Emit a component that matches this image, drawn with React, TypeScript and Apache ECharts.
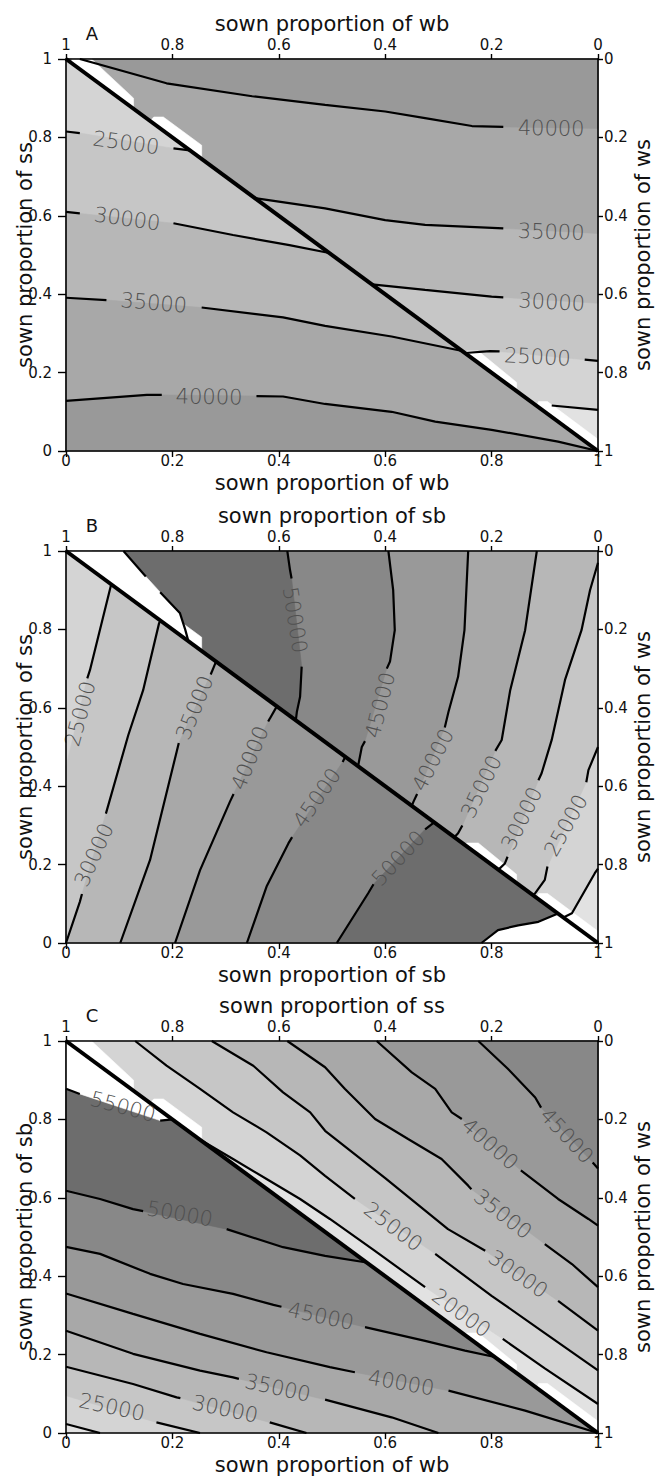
import React, { useEffect, useRef } from "react";
import * as echarts from "echarts";

type Pt = number[] | null;
type Contour = { level: number; pts: Pt[]; close: number[][] };

// ---- tick values / colour bands ----
const TICK_INTERVAL = 0.2;
const LEVELS = [0, 20000, 25000, 30000, 35000, 40000, 45000, 50000, 55000];
const BAND_COLORS = ["#e2e2e2", "#d4d4d4", "#c6c6c6", "#b7b7b7", "#a8a8a8", "#999999", "#888888", "#6d6d6d", "#ffffff"];

const UPPER_TRI = [[0, 1], [1, 1], [1, 0]];
const LOWER_TRI = [[0, 1], [0, 0], [1, 0]];

// ---------------- Panel A ----------------
const A_UPPER: Contour[] = [
  { level: 20000, pts: [[0.89, 0.11], null, [0.913, 0.116], [1, 0.105]], close: [[1, 1], [0, 1]] },
  { level: 25000, pts: [[0.75, 0.25], [0.797, 0.255], [0.815, 0.254], null, [0.975, 0.233], [1, 0.23]], close: [[1, 1], [0, 1]] },
  { level: 30000, pts: [[0.575, 0.425], [0.675, 0.411], [0.8, 0.394], [0.822, 0.392], null, [1, 0.377]], close: [[1, 1], [0, 1]] },
  { level: 35000, pts: [[0.355, 0.645], [0.487, 0.619], [0.6, 0.589], [0.675, 0.577], [0.822, 0.568], null, [1, 0.555]], close: [[1, 1], [0, 1]] },
  { level: 40000, pts: [[0.026, 1], [0.189, 0.938], [0.35, 0.905], [0.487, 0.883], [0.6, 0.866], [0.675, 0.849], [0.763, 0.829], [0.822, 0.827], null, [1, 0.823]], close: [[1, 1]] },
];
const A_LOWER: Contour[] = [
  { level: 25000, pts: [[0, 0.815], [0.026, 0.811], null, [0.202, 0.772], [0.233, 0.767]], close: [[1, 0], [0, 0]] },
  { level: 30000, pts: [[0, 0.61], [0.026, 0.606], null, [0.202, 0.581], [0.314, 0.551], [0.42, 0.525], [0.495, 0.505]], close: [[1, 0], [0, 0]] },
  { level: 35000, pts: [[0, 0.391], [0.076, 0.385], null, [0.255, 0.366], [0.408, 0.341], [0.487, 0.319], [0.612, 0.292], [0.745, 0.255]], close: [[1, 0], [0, 0]] },
  { level: 40000, pts: [[0, 0.128], [0.152, 0.143], [0.18, 0.143], null, [0.358, 0.14], [0.408, 0.139], [0.487, 0.12], [0.612, 0.1], [0.694, 0.075], [0.8, 0.054], [0.925, 0.024], [1, 0]], close: [[0, 0]] },
];
// [x, y, value, rotation in degrees]
const A_LABELS = [
  [0.912, 0.823, 40000, -1], [0.912, 0.559, 35000, -2], [0.913, 0.38, 30000, -3], [0.886, 0.24, 25000, -3],
  [0.113, 0.786, 25000, -8], [0.115, 0.592, 30000, -8], [0.165, 0.378, 35000, -5], [0.269, 0.138, 40000, -1],
];

// ---------------- Panel B ----------------
const B_UPPER: Contour[] = [
  { level: 20000, pts: [[1, 0.19], [0.994, 0.178], [0.951, 0.076], [0.935, 0.065]], close: [[0, 1], [1, 1]] },
  { level: 25000, pts: [[1, 0.5], [0.982, 0.441], [0.978, 0.41], null, [0.905, 0.195], [0.9, 0.161], [0.882, 0.127], [0.878, 0.122]], close: [[0, 1], [1, 1]] },
  { level: 30000, pts: [[1, 0.97], [0.985, 0.9], [0.969, 0.798], [0.938, 0.671], [0.913, 0.518], [0.894, 0.433], [0.888, 0.415], null, [0.83, 0.22], [0.825, 0.203], [0.812, 0.186]], close: [[0, 1], [1, 1]] },
  { level: 35000, pts: [[0.885, 1], [0.863, 0.798], [0.835, 0.645], [0.819, 0.518], [0.807, 0.49], null, [0.745, 0.3], [0.737, 0.28], [0.73, 0.27]], close: [[0, 1]] },
  { level: 40000, pts: [[0.756, 1], [0.749, 0.798], [0.737, 0.679], [0.719, 0.59], [0.712, 0.55], null, [0.66, 0.38], [0.653, 0.36], [0.65, 0.35]], close: [[0, 1]] },
  { level: 45000, pts: [[0.606, 1], [0.615, 0.9], [0.618, 0.798], [0.609, 0.718], [0.603, 0.7], null, [0.562, 0.515], [0.556, 0.5], [0.549, 0.451]], close: [[0, 1]] },
  { level: 50000, pts: [[0.416, 1], [0.421, 0.952], [0.424, 0.93], null, [0.443, 0.705], [0.44, 0.628], [0.434, 0.59], [0.432, 0.568]], close: [[0, 1]] },
  { level: 55000, pts: [[0.108, 1], [0.15, 0.935], null, [0.177, 0.895], [0.214, 0.842], [0.224, 0.8], [0.23, 0.77]], close: [[0, 1]] },
];
const B_LOWER: Contour[] = [
  { level: 25000, pts: [[0.085, 0.915], [0.045, 0.696], [0.04, 0.675], null, [0, 0.45]], close: [[0, 0], [1, 0]] },
  { level: 30000, pts: [[0, 0], [0.026, 0.105], [0.03, 0.125], null, [0.075, 0.33], [0.117, 0.53], [0.145, 0.645], [0.175, 0.816], [0.178, 0.822]], close: [[1, 0]] },
  { level: 35000, pts: [[0.102, 0], [0.158, 0.212], [0.208, 0.488], [0.212, 0.51], null, [0.272, 0.685], [0.282, 0.718]], close: [[1, 0]] },
  { level: 40000, pts: [[0.205, 0], [0.252, 0.186], [0.308, 0.36], [0.315, 0.38], null, [0.38, 0.565], [0.396, 0.603]], close: [[1, 0]] },
  { level: 45000, pts: [[0.34, 0], [0.377, 0.144], [0.418, 0.254], [0.425, 0.27], null, [0.52, 0.462], [0.525, 0.475]], close: [[1, 0]] },
  { level: 50000, pts: [[0.509, 0], [0.568, 0.127], [0.578, 0.15], null, [0.675, 0.29], [0.692, 0.308]], close: [[1, 0]] },
  { level: 55000, pts: [[0.781, 0], [0.812, 0.033], [0.85, 0.045], [0.888, 0.054], [0.925, 0.075]], close: [[1, 0]] },
];
const B_LABELS = [
  [0.43, 0.824, 50000, -81], [0.591, 0.607, 45000, 76], [0.69, 0.467, 40000, 63], [0.781, 0.399, 35000, 64],
  [0.857, 0.318, 30000, 64], [0.94, 0.3, 25000, 61],
  [0.027, 0.585, 25000, 75], [0.052, 0.225, 30000, 66], [0.242, 0.6, 35000, 68], [0.346, 0.472, 40000, 68],
  [0.472, 0.37, 45000, 55], [0.625, 0.216, 50000, 47],
];

// ---------------- Panel C ----------------
const C_UPPER: Contour[] = [
  { level: 20000, pts: [[0.25, 0.75], [0.314, 0.699], [0.377, 0.648], [0.44, 0.597], [0.496, 0.546], [0.58, 0.465], [0.675, 0.372], null, [0.821, 0.24], [0.9, 0.165], [1, 0.074]], close: [[1, 1], [0, 1]] },
  { level: 25000, pts: [[0.13, 1], [0.189, 0.937], [0.252, 0.878], [0.314, 0.818], [0.377, 0.767], [0.44, 0.708], [0.487, 0.656], [0.543, 0.597], null, [0.694, 0.457], [0.8, 0.35], [0.9, 0.255], [1, 0.16]], close: [[1, 1]] },
  { level: 30000, pts: [[0.274, 1], [0.352, 0.937], [0.408, 0.869], [0.459, 0.818], [0.487, 0.771], [0.6, 0.65], [0.718, 0.52], [0.788, 0.465], null, [0.925, 0.337], [1, 0.261]], close: [[1, 1]] },
  { level: 35000, pts: [[0.416, 1], [0.487, 0.933], [0.524, 0.878], [0.581, 0.801], [0.643, 0.75], [0.706, 0.699], [0.756, 0.631], [0.762, 0.622], null, [0.9, 0.482], [0.951, 0.431], [1, 0.372]], close: [[1, 1]] },
  { level: 40000, pts: [[0.584, 1], [0.65, 0.92], [0.694, 0.878], [0.725, 0.818], [0.744, 0.801], null, [0.855, 0.67], [0.925, 0.597], [0.982, 0.546], [1, 0.529]], close: [[1, 1]] },
  { level: 45000, pts: [[0.775, 1], [0.83, 0.93], [0.882, 0.856], [0.893, 0.83], null, [0.99, 0.69], [1, 0.675]], close: [[1, 1]] },
];
const C_LOWER: Contour[] = [
  { level: 20000, pts: [[0, 0.023], [0.064, 0]], close: [[1, 0], [0, 1]] },
  { level: 25000, pts: [[0, 0.095], null, [0.17, 0.027], [0.252, 0]], close: [[1, 0], [0, 1]] },
  { level: 30000, pts: [[0, 0.169], [0.126, 0.125], [0.208, 0.091], [0.215, 0.089], null, [0.383, 0.027], [0.452, 0]], close: [[1, 0], [0, 1]] },
  { level: 35000, pts: [[0, 0.261], [0.126, 0.202], [0.252, 0.159], [0.314, 0.142], [0.325, 0.138], null, [0.487, 0.085], [0.612, 0.04], [0.7, 0]], close: [[1, 0], [0, 1]] },
  { level: 40000, pts: [[0, 0.356], [0.126, 0.304], [0.252, 0.253], [0.377, 0.206], [0.496, 0.168], [0.543, 0.155], null, [0.719, 0.108], [0.863, 0.057], [1, 0]], close: [[0, 1]] },
  { level: 45000, pts: [[0, 0.475], [0.064, 0.457], [0.158, 0.406], [0.22, 0.38], [0.314, 0.355], [0.39, 0.327], [0.405, 0.322], null, [0.562, 0.27], [0.675, 0.235], [0.75, 0.21], [0.806, 0.194]], close: [[0, 1]] },
  { level: 50000, pts: [[0, 0.618], [0.064, 0.597], [0.126, 0.571], [0.145, 0.566], null, [0.302, 0.52], [0.408, 0.474], [0.487, 0.452], [0.565, 0.435]], close: [[0, 1]] },
  { level: 55000, pts: [[0, 0.878], [0.026, 0.865], null, [0.177, 0.797], [0.2, 0.8]], close: [[0, 1]] },
];
const C_LABELS = [
  [0.941, 0.758, 45000, -47], [0.797, 0.737, 40000, -41], [0.821, 0.558, 35000, -38], [0.85, 0.405, 30000, -35],
  [0.615, 0.526, 25000, -37], [0.743, 0.306, 20000, -36],
  [0.107, 0.832, 55000, -15], [0.214, 0.559, 50000, -10], [0.479, 0.298, 45000, -12], [0.63, 0.128, 40000, -10],
  [0.398, 0.115, 35000, -12], [0.299, 0.061, 30000, -12], [0.086, 0.066, 25000, -12],
];

// unfilled strips along the diagonal (same grid artefact in every panel)
const GAP_STRIPS = [
  [[0.011, 0.989], [0.011, 1], [0.048, 1], [0.127, 0.9], [0.127, 0.873]],
  [[0.158, 0.842], [0.165, 0.852], [0.183, 0.852], [0.255, 0.78], [0.255, 0.745]],
  [[0.75, 0.25], [0.753, 0.255], [0.775, 0.255], [0.847, 0.175], [0.847, 0.153]],
  [[0.885, 0.115], [0.888, 0.126], [0.905, 0.126], [1, 0.03], [1, 0]],
];
const DIAGONAL = [[0, 1], [1, 0]];

const PANELS = [
  { letter: "A", top: "sown proportion of wb", bottom: "sown proportion of wb", left: "sown proportion of ss", right: "sown proportion of ws",
    tris: [{ shape: UPPER_TRI, base: 0, contours: A_UPPER }, { shape: LOWER_TRI, base: 20000, contours: A_LOWER }], labels: A_LABELS },
  { letter: "B", top: "sown proportion of sb", bottom: "sown proportion of sb", left: "sown proportion of ss", right: "sown proportion of ws",
    tris: [{ shape: UPPER_TRI, base: 0, contours: B_UPPER }, { shape: LOWER_TRI, base: 20000, contours: B_LOWER }], labels: B_LABELS },
  { letter: "C", top: "sown proportion of ss", bottom: "sown proportion of wb", left: "sown proportion of sb", right: "sown proportion of ws",
    tris: [{ shape: UPPER_TRI, base: 0, contours: C_UPPER }, { shape: LOWER_TRI, base: 0, contours: C_LOWER }], labels: C_LABELS },
];

const GRID_LEFT = 66;
const GRID_W = 532;
const GRID_H = 392;
const GRID_TOPS = [59, 551, 1041];
const FONT = "DejaVu Sans";
const LIGHT_FONT = '"DejaVu Sans ExtraLight", "DejaVu Sans Light", "DejaVu Sans"';

function colorFor(level: number) {
  return BAND_COLORS[LEVELS.indexOf(level)];
}

function buildOption() {
  const grids: any[] = [];
  const xAxes: any[] = [];
  const yAxes: any[] = [];
  const series: any[] = [];
  const graphics: any[] = [];

  const axisCommon = {
    min: 0, max: 1, interval: TICK_INTERVAL, z: 10,
    splitLine: { show: false },
    axisLine: { show: true, onZero: false, lineStyle: { color: "#000", width: 1.6 } },
    axisTick: { show: true, length: 6, lineStyle: { color: "#000", width: 1.4 } },
  };
  const lbl = (margin: number) => ({ color: "#111", fontSize: 15, fontFamily: FONT, margin });

  PANELS.forEach((p, g) => {
    const top = GRID_TOPS[g];
    grids.push({ left: GRID_LEFT, top, width: GRID_W, height: GRID_H, containLabel: false });
    const xb = xAxes.length;
    xAxes.push({ ...axisCommon, type: "value", gridIndex: g, position: "bottom", axisLabel: lbl(2), axisTick: { ...axisCommon.axisTick, length: 6 } });
    xAxes.push({ ...axisCommon, type: "value", gridIndex: g, position: "top", inverse: true, axisLabel: lbl(7), axisTick: { ...axisCommon.axisTick, length: 5 } });
    const yl = yAxes.length;
    yAxes.push({ ...axisCommon, type: "value", gridIndex: g, position: "left", axisLabel: lbl(14), axisTick: { ...axisCommon.axisTick, length: 8 } });
    yAxes.push({ ...axisCommon, type: "value", gridIndex: g, position: "right", inverse: true, axisLabel: lbl(6), axisTick: { ...axisCommon.axisTick, length: 5 } });

    // filled bands (painter's order)
    const polys: { pts: number[][]; color: string }[] = [];
    p.tris.forEach((t) => {
      polys.push({ pts: t.shape, color: colorFor(t.base) });
      t.contours.forEach((c) => {
        const pts = (c.pts.filter((q) => q) as number[][]).concat(c.close);
        polys.push({ pts, color: colorFor(c.level) });
      });
    });
    GAP_STRIPS.forEach((s) => polys.push({ pts: s, color: "#ffffff" }));

    series.push({
      type: "custom", xAxisIndex: xb, yAxisIndex: yl, silent: true, z: 1,
      data: polys.map((_, i) => [0.5, 0.5, i]),
      renderItem: (params: any, api: any) => {
        const poly = polys[params.dataIndex];
        return {
          type: "polygon",
          shape: { points: poly.pts.map((q) => api.coord(q)) },
          style: { fill: poly.color, stroke: poly.color, lineWidth: 0.6 },
        };
      },
    });

    // contour lines, broken where the labels sit
    p.tris.forEach((t) => {
      t.contours.forEach((c) => {
        let seg: number[][] = [];
        const flush = () => {
          if (seg.length >= 2) {
            series.push({
              type: "line", xAxisIndex: xb, yAxisIndex: yl, data: seg, symbol: "none", silent: true, z: 3,
              lineStyle: { color: "#000", width: 2.2 },
            });
          }
          seg = [];
        };
        c.pts.forEach((q) => { if (q) seg.push(q); else flush(); });
        flush();
      });
    });

    // diagonal
    series.push({
      type: "line", xAxisIndex: xb, yAxisIndex: yl, data: DIAGONAL, symbol: "none", silent: true, z: 4,
      lineStyle: { color: "#000", width: 4 },
    });

    // contour labels
    series.push({
      type: "custom", xAxisIndex: xb, yAxisIndex: yl, silent: true, z: 5,
      data: p.labels,
      renderItem: (params: any, api: any) => {
        const pos = api.coord([api.value(0), api.value(1)]);
        return {
          type: "text", x: pos[0], y: pos[1], rotation: (api.value(3) * Math.PI) / 180,
          style: { text: String(api.value(2)), fill: "#505050", fontSize: 21, fontFamily: LIGHT_FONT, fontWeight: 200, align: "center", verticalAlign: "middle" },
        };
      },
    });

    const cx = GRID_LEFT + GRID_W / 2;
    const cy = top + GRID_H / 2;
    const title = { fill: "#111", fontSize: 21, fontFamily: FONT, align: "center", verticalAlign: "middle" };
    graphics.push({ type: "text", x: cx, y: top - 35.5, style: { ...title, text: p.top } });
    graphics.push({ type: "text", x: cx, y: top + GRID_H + 31.5, style: { ...title, text: p.bottom } });
    graphics.push({ type: "text", x: 25, y: cy, rotation: Math.PI / 2, style: { ...title, text: p.left } });
    graphics.push({ type: "text", x: 643, y: cy, rotation: Math.PI / 2, style: { ...title, text: p.right } });
    graphics.push({ type: "text", x: 92, y: top - 26, style: { ...title, fontSize: 18, text: p.letter } });
  });

  return { animation: false, backgroundColor: "#fff", grid: grids, xAxis: xAxes, yAxis: yAxes, series, graphic: graphics };
}

export default function App() {
  const ref = useRef<HTMLDivElement>(null);
  useEffect(() => {
    if (!ref.current) return;
    const chart = echarts.init(ref.current, undefined, { renderer: "svg" });
    chart.setOption(buildOption() as any);
    return () => chart.dispose();
  }, []);
  return <div ref={ref} style={{ position: "absolute", left: 0, top: 0, width: 655, height: 1477 }} />;
}
